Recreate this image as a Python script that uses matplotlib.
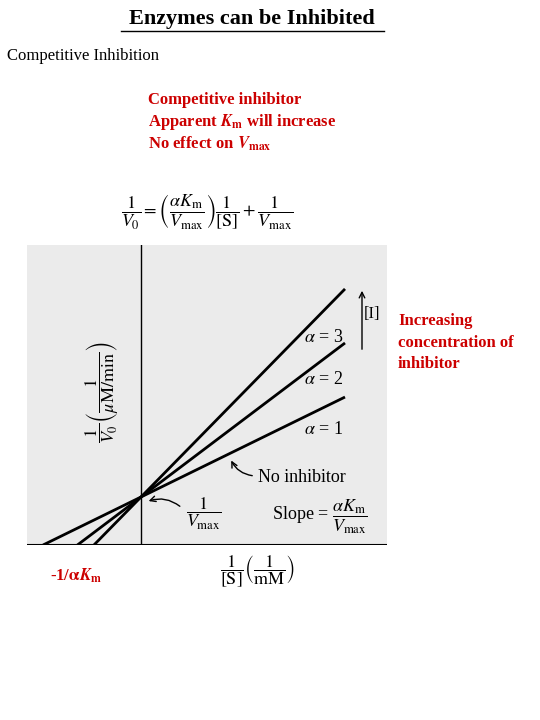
import matplotlib
matplotlib.use("Agg")
import matplotlib.pyplot as plt
import numpy as np

plt.rcParams['mathtext.fontset'] = 'stix'
plt.rcParams['font.family'] = ['Liberation Serif', 'DejaVu Serif']

alphas = ["1", "2", "3"]
slopes = [0.49, 0.755, 1.02]   # slope of 1/V0 vs 1/[S] for alpha = 1, 2, 3
intercept = 1.0                # 1/Vmax
x_end = 4.25

W, H = 540, 720
fig = plt.figure(figsize=(5.4, 7.2), dpi=100)
def P(x, y): return x / W, 1 - y / H
def T(x, y, s, **kw): fig.text(*P(x, y), s, **kw)

ax = fig.add_axes([27/W, 1-545/H, 360/W, 300/H])
ax.set_facecolor('#ebebeb')
ax.set_xlim(-114/48, 246/48)
ax.set_ylim(0, 300/48)
for s in ax.spines.values(): s.set_visible(False)
ax.set_xticks([]); ax.set_yticks([])
ax.axhline(0, color='black', lw=1.5)
ax.axvline(0, color='black', lw=1)
for a, m in zip(alphas, slopes):
    x0 = -intercept / m
    xs = np.array([x0, x_end])
    ax.plot(xs, m * xs + intercept, color='black', lw=2, solid_capstyle='butt')
    ax.text(3.8, m * 3.9 + intercept - (0.75 if a == "3" else 0.6),
            r'$\alpha$ = ' + a, fontsize=13, ha='center')

# title
T(252, 19, "Enzymes can be Inhibited", fontsize=16, weight='bold', ha='center', va='center')
fig.add_artist(plt.Line2D([121/W, 384/W], [1-31/H, 1-31/H], color='black', lw=1))
T(7, 56, "Competitive Inhibition", fontsize=12, va='center')
red = '#cc0000'
T(148, 100, "Competitive inhibitor", color=red, fontsize=12, weight='bold', va='center')
T(148, 122, r"Apparent $\mathbfit{K}_{\mathbf{m}}$ will increase", color=red, fontsize=12, weight='bold', va='center')
T(148, 144, r"No effect on $\mathbfit{V}_{\mathbf{max}}$", color=red, fontsize=12, weight='bold', va='center')
T(207, 212, r"$\dfrac{1}{V_0} = \left(\dfrac{\alpha K_{\mathrm{m}}}{V_{\max}}\right)\dfrac{1}{[\mathrm{S}]} + \dfrac{1}{V_{\max}}$",
  fontsize=13, ha='center', va='center')
T(102, 392, r"$\dfrac{1}{V_0}\left(\dfrac{1}{\mu\mathrm{M/min}}\right)$", fontsize=13, rotation=90, ha='center', va='center')
T(257, 572, r"$\dfrac{1}{[\mathrm{S}]}\left(\dfrac{1}{\mathrm{mM}}\right)$", fontsize=13, ha='center', va='center')
T(50, 576, r"-1/$\mathbf{\alpha}\mathbfit{K}_{\mathbf{m}}$", color=red, fontsize=12, weight='bold', va='center')
T(398, 321, "Increasing", color=red, fontsize=12, weight='bold', va='center')
T(398, 343, "concentration of", color=red, fontsize=12, weight='bold', va='center')
T(398, 364, "inhibitor", color=red, fontsize=12, weight='bold', va='center')

fig.add_artist(matplotlib.patches.FancyArrowPatch(P(362, 352), P(362, 288), arrowstyle='->',
                                                   mutation_scale=10, color='black', lw=1))
T(364, 314, "[I]", fontsize=12, va='center')
T(258, 478, "No inhibitor", fontsize=13, va='center')
fig.add_artist(matplotlib.patches.FancyArrowPatch(P(255, 476), P(230, 458), arrowstyle='->',
               connectionstyle='arc3,rad=-0.3', mutation_scale=10, color='black', lw=1))
T(204, 514, r"$\dfrac{1}{V_{\max}}$", fontsize=13, ha='center', va='center')
fig.add_artist(matplotlib.patches.FancyArrowPatch(P(182, 508), P(146, 502), arrowstyle='->',
               connectionstyle='arc3,rad=0.3', mutation_scale=10, color='black', lw=1))
T(320, 517, r"Slope = $\dfrac{\alpha K_{\mathrm{m}}}{V_{\max}}$", fontsize=13, ha='center', va='center')

fig.savefig("out.png", dpi=100, facecolor='white')
